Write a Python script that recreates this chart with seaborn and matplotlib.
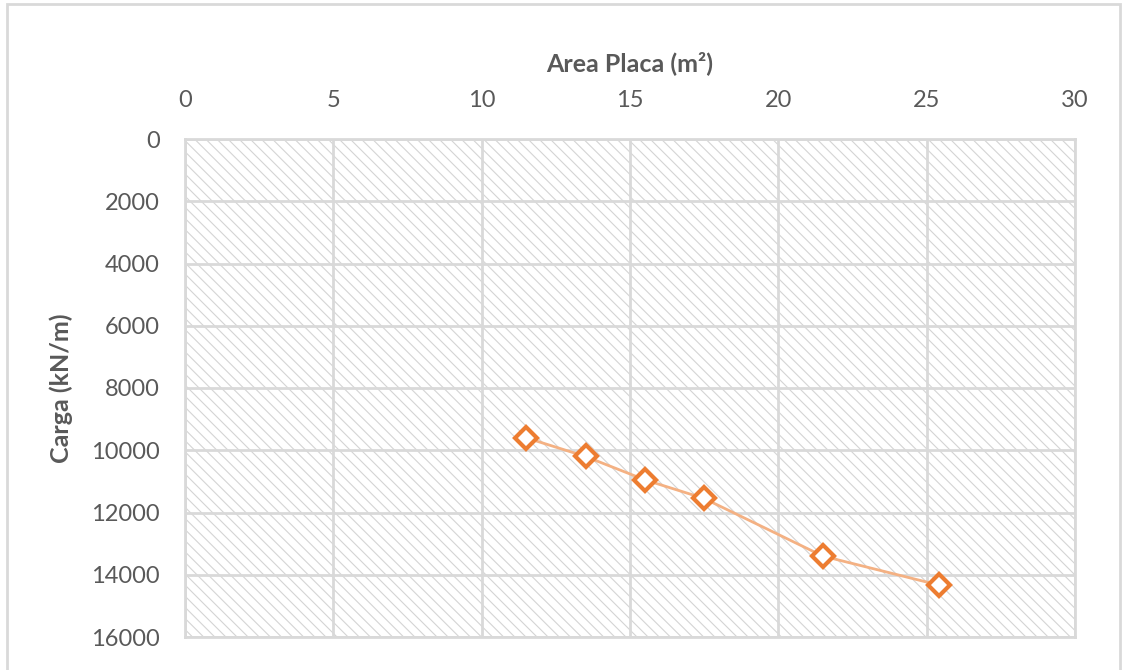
import matplotlib
matplotlib.use("Agg")
import matplotlib.pyplot as plt
import seaborn as sns
import pandas as pd
from matplotlib.patches import Rectangle

# valores
area_placa = [11.5, 13.5, 15.5, 17.5, 21.5, 25.4]
carga = [9600, 10200, 10950, 11550, 13400, 14330]
x_ticks = [0, 5, 10, 15, 20, 25, 30]
y_ticks = [0, 2000, 4000, 6000, 8000, 10000, 12000, 14000, 16000]

df = pd.DataFrame({"Area Placa (m²)": area_placa, "Carga (kN/m)": carga})

sns.set_style("white")
plt.rcParams["font.family"] = ["Lato", "DejaVu Sans"]
plt.rcParams["hatch.linewidth"] = 0.8
plt.rcParams["hatch.color"] = "#d4d4d4"

texto = "#595959"
grade = "#d9d9d9"

fig = plt.figure(figsize=(11.24, 6.7), dpi=100)
ax = fig.add_axes([185 / 1124, 1 - 637 / 670, 890 / 1124, 498 / 670])

# fundo hachurado
ax.patch.set_facecolor("white")
fundo = Rectangle((0, 0), 1, 1, transform=ax.transAxes, facecolor="white",
                  edgecolor="#d4d4d4", hatch="\\\\\\", linewidth=0, zorder=0)
ax.add_patch(fundo)

sns.lineplot(data=df, x="Area Placa (m²)", y="Carga (kN/m)", ax=ax,
             color="#F4B183", linewidth=2, marker="D", markersize=11,
             markerfacecolor="white", markeredgecolor="#ED7D31",
             markeredgewidth=3, zorder=3)

ax.set_xlim(0, 30)
ax.set_ylim(16000, 0)
ax.set_xticks(x_ticks)
ax.set_yticks(y_ticks)
ax.xaxis.tick_top()
ax.xaxis.set_label_position("top")
ax.tick_params(axis="both", length=0, labelsize=17, labelcolor=texto)
ax.tick_params(axis="x", pad=20)
ax.tick_params(axis="y", pad=18)
ax.grid(True, color=grade, linewidth=2, zorder=1)
ax.set_axisbelow(True)
for s in ax.spines.values():
    s.set_color(grade)
    s.set_linewidth(2)

ax.set_xlabel("Area Placa (m²)", fontsize=18, fontweight="bold", color=texto, labelpad=14)
ax.set_ylabel("Carga (kN/m)", fontsize=18, fontweight="bold", color=texto, labelpad=13)

# borda do gráfico
fig.add_artist(Rectangle((7 / 1124, -0.01), 1113 / 1124, 1.01 - 4 / 670,
                         transform=fig.transFigure, fill=False,
                         edgecolor=grade, linewidth=2))

fig.savefig("out.png", dpi=100)
